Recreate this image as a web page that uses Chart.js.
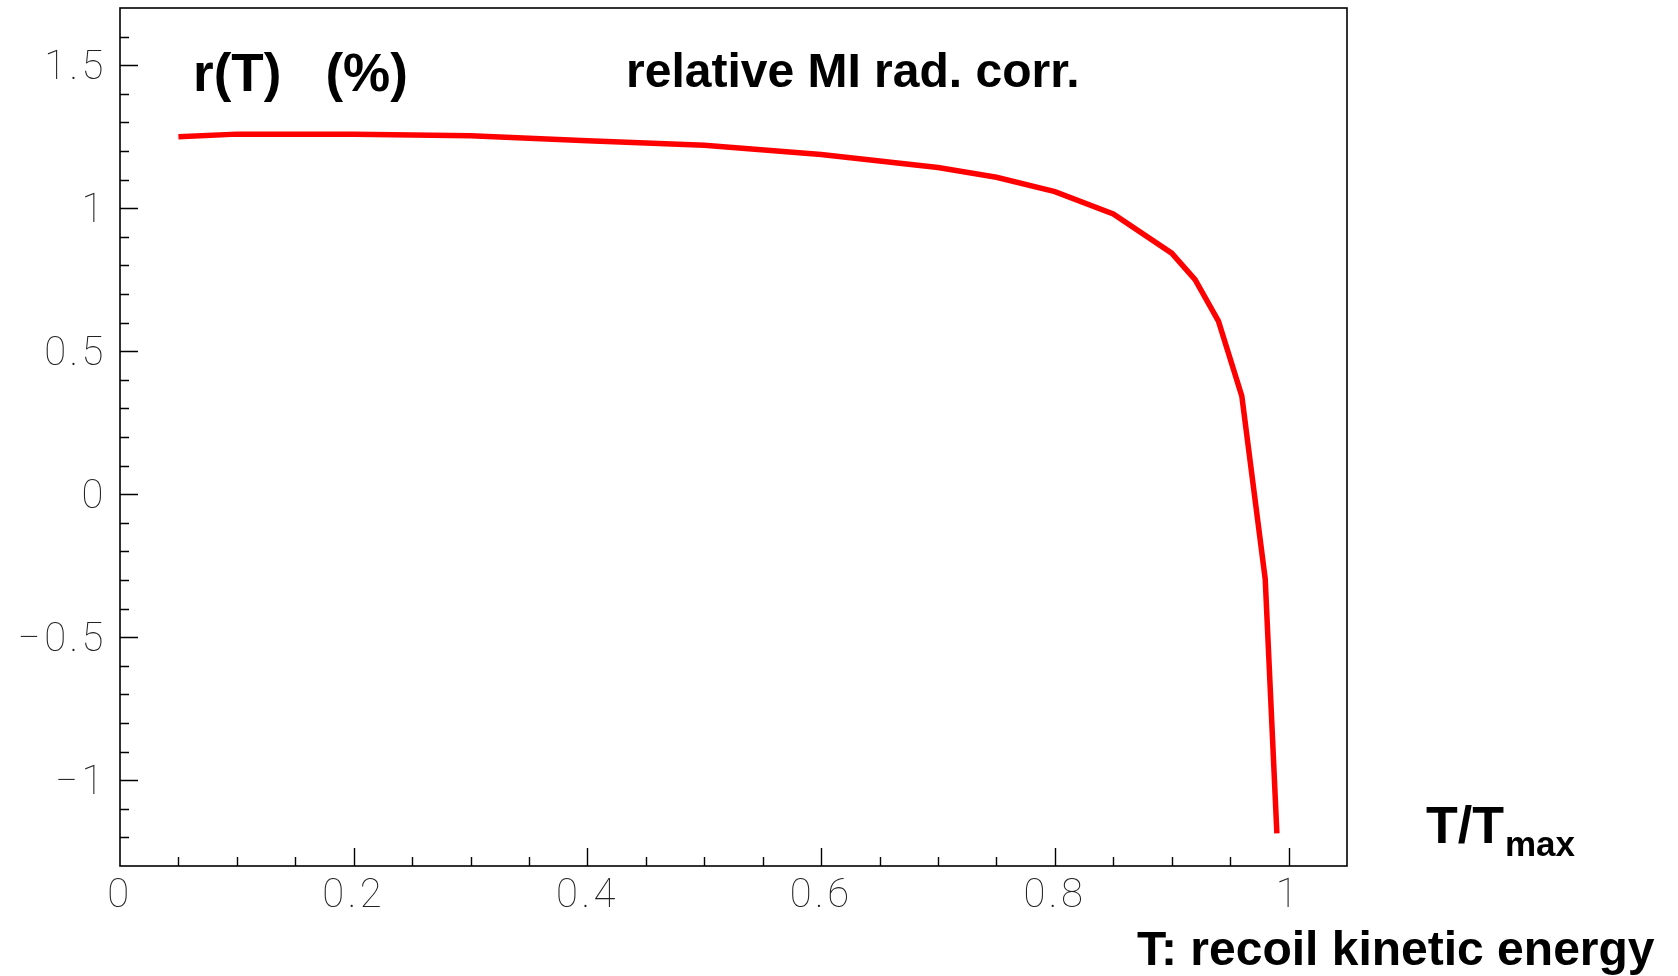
<!DOCTYPE html>
<html>
<head>
<meta charset="utf-8">
<script src="https://cdn.jsdelivr.net/npm/chart.js@4/dist/chart.umd.min.js"></script>
<style>
html,body{margin:0;padding:0;background:#fff;}
#wrap{position:relative;width:1678px;height:976px;}
</style>
</head>
<body>
<div id="wrap"><canvas id="c" width="1678" height="976"></canvas></div>
<script>
// ---- data ----
const tRatio = [0.05, 0.1, 0.2, 0.3, 0.4, 0.5, 0.6, 0.7, 0.75, 0.8, 0.85, 0.9, 0.92, 0.94, 0.96, 0.98, 0.99];
const radCorr = [1.250, 1.259, 1.259, 1.253, 1.236, 1.220, 1.188, 1.142, 1.108, 1.058, 0.980, 0.843, 0.750, 0.605, 0.343, -0.296, -1.186];

const xTickValues = [0, 0.2, 0.4, 0.6, 0.8, 1];
const xTickLabels = ["0", "0.2", "0.4", "0.6", "0.8", "1"];
const yTickValues = [-1, -0.5, 0, 0.5, 1, 1.5];
const yTickLabels = ["\u22121", "\u22120.5", "0", "0.5", "1", "1.5"];

const xRange = [0, 1.05];
const yRange = [-1.3, 1.7];
const xMinorStep = 0.05;
const yMinorStep = 0.1;

const titleLeft = "r(T)   (%)";
const titleCenter = "relative MI rad. corr.";
const xAxisMain = "T/T";
const xAxisSub = "max";
const xAxisNote = "T: recoil kinetic energy";

// ---- helpers ----
function minorValues(min, max, step) {
  const out = [];
  const n0 = Math.ceil(min / step - 1e-9), n1 = Math.floor(max / step + 1e-9);
  for (let i = n0; i <= n1; i++) out.push(+(i * step).toFixed(6));
  return out;
}

const spacing = {
  id: 'spacing',
  beforeDraw(chart) { chart.ctx.letterSpacing = '3.5px'; },
  afterDraw(chart) { chart.ctx.letterSpacing = '0px'; }
};

const frameAndTicks = {
  id: 'frameAndTicks',
  afterDatasetsDraw(chart) {
    const ctx = chart.ctx, a = chart.chartArea;
    const xs = chart.scales.x, ys = chart.scales.y;
    ctx.save();
    ctx.letterSpacing = '0px';
    ctx.strokeStyle = '#000';
    ctx.lineWidth = 1.6;
    ctx.strokeRect(a.left, a.top, a.right - a.left, a.bottom - a.top);
    ctx.lineWidth = 1.4;
    ctx.beginPath();
    minorValues(xRange[0], xRange[1], xMinorStep).forEach(v => {
      const px = Math.round(xs.getPixelForValue(v)) + 0.5;
      if (px <= a.left + 1 || px >= a.right - 1) return;
      const major = xTickValues.some(t => Math.abs(t - v) < 1e-6);
      ctx.moveTo(px, a.bottom);
      ctx.lineTo(px, a.bottom - (major ? 18 : 9));
    });
    minorValues(yRange[0], yRange[1], yMinorStep).forEach(v => {
      const py = Math.round(ys.getPixelForValue(v)) + 0.5;
      if (py <= a.top + 1 || py >= a.bottom - 1) return;
      const major = yTickValues.some(t => Math.abs(t - v) < 1e-6);
      ctx.moveTo(a.left, py);
      ctx.lineTo(a.left + (major ? 18 : 9), py);
    });
    ctx.stroke();

    ctx.fillStyle = '#000';
    ctx.textBaseline = 'alphabetic';
    ctx.textAlign = 'left';
    ctx.font = 'bold 53px "Liberation Sans", Arial, sans-serif';
    ctx.fillText(titleLeft, 193, 91);
    ctx.font = 'bold 48px "Liberation Sans", Arial, sans-serif';
    ctx.fillText(titleCenter, 626, 87);
    ctx.font = 'bold 52px "Liberation Sans", Arial, sans-serif';
    ctx.fillText(xAxisMain, 1426, 843);
    const w = ctx.measureText(xAxisMain).width;
    ctx.font = 'bold 35px "Liberation Sans", Arial, sans-serif';
    ctx.fillText(xAxisSub, 1426 + w + 1, 856);
    ctx.font = 'bold 48px "Liberation Sans", Arial, sans-serif';
    ctx.fillText(xAxisNote, 1137, 965);
    ctx.restore();
  }
};

const tickFont = { family: 'Roboto, "DejaVu Sans", sans-serif', size: 40, weight: '100' };

new Chart(document.getElementById('c'), {
  type: 'line',
  data: {
    datasets: [{
      data: tRatio.map((x, i) => ({ x: x, y: radCorr[i] })),
      borderColor: '#ff0000',
      borderWidth: 5.5,
      pointRadius: 0,
      tension: 0,
      fill: false
    }]
  },
  options: {
    responsive: false,
    animation: false,
    devicePixelRatio: 1,
    layout: { padding: { top: 8, right: 331, left: 0, bottom: 0 } },
    plugins: { legend: { display: false }, tooltip: { enabled: false }, title: { display: false } },
    scales: {
      x: {
        type: 'linear',
        min: xRange[0], max: xRange[1],
        grid: { display: false, drawTicks: false },
        border: { display: false },
        afterBuildTicks: s => { s.ticks = xTickValues.map(v => ({ value: v })); },
        afterFit: s => { s.height = 110; s.paddingLeft = 0; s.paddingRight = 0; },
        ticks: {
          color: '#222',
          font: tickFont,
          padding: 7,
          maxRotation: 0,
          autoSkip: false,
          callback: (v) => { const i = xTickValues.findIndex(t => Math.abs(t - v) < 1e-6); return i >= 0 ? xTickLabels[i] : ''; }
        }
      },
      y: {
        type: 'linear',
        min: yRange[0], max: yRange[1],
        grid: { display: false, drawTicks: false },
        border: { display: false },
        afterBuildTicks: s => { s.ticks = yTickValues.map(v => ({ value: v })); },
        afterFit: s => { s.width = 120; s.paddingTop = 0; s.paddingBottom = 0; },
        ticks: {
          color: '#222',
          font: tickFont,
          padding: 13,
          labelOffset: 4,
          autoSkip: false,
          callback: (v) => { const i = yTickValues.findIndex(t => Math.abs(t - v) < 1e-6); return i >= 0 ? yTickLabels[i] : ''; }
        }
      }
    }
  },
  plugins: [spacing, frameAndTicks]
});
</script>
</body>
</html>
